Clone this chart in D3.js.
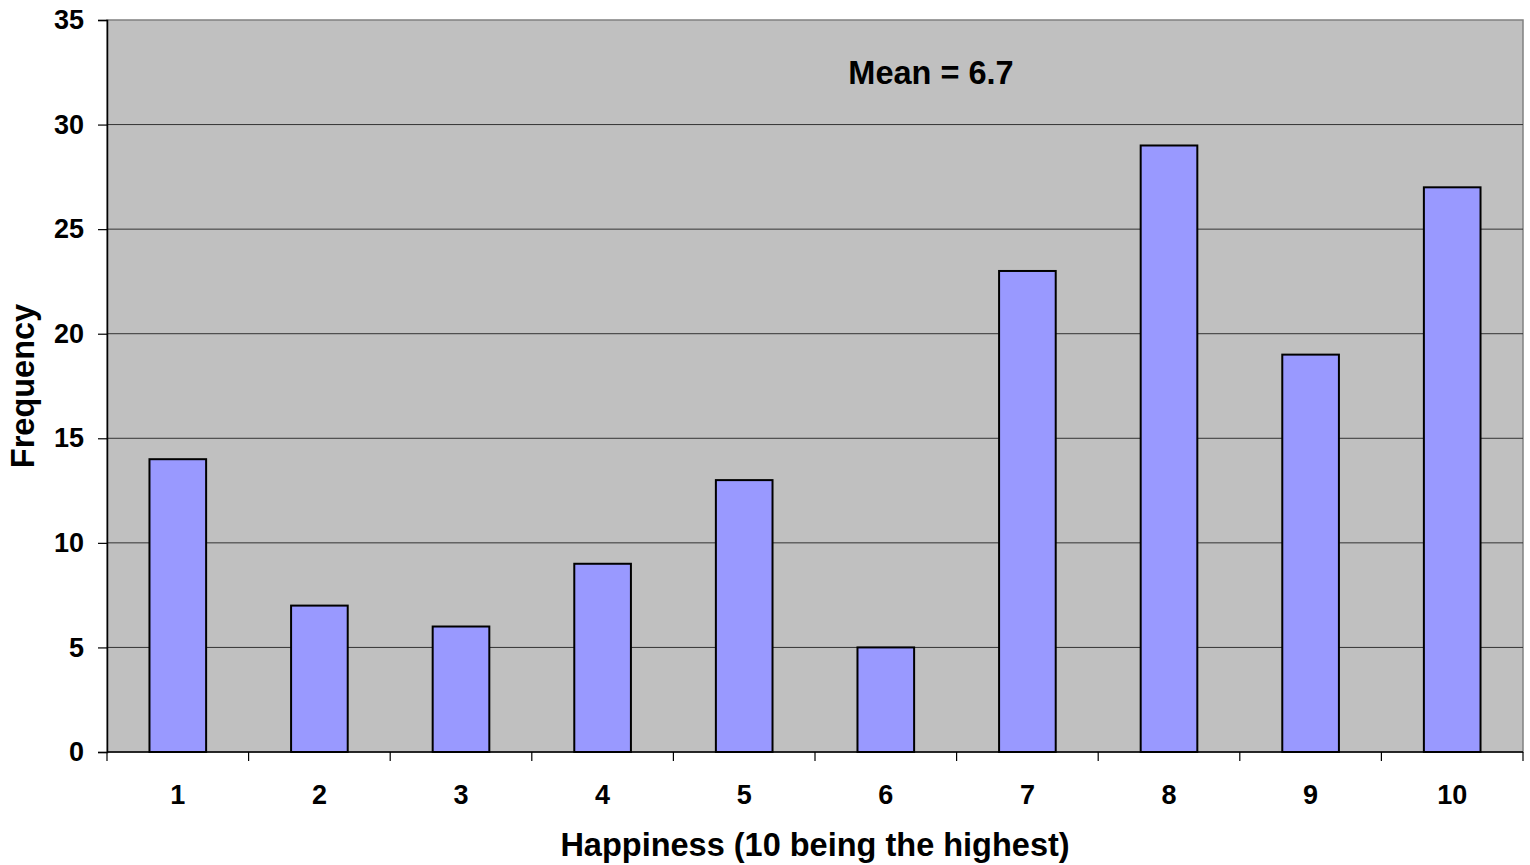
<!DOCTYPE html>
<html><head><meta charset="utf-8">
<script src="https://cdn.jsdelivr.net/npm/d3@7"></script>
<style>html,body{margin:0;padding:0;background:#fff;}svg{display:block;}</style>
</head><body>
<svg id="chart" width="1530" height="865"></svg>
<script>
const categories = ["1","2","3","4","5","6","7","8","9","10"];
const frequencies = [14, 7, 6, 9, 13, 5, 23, 29, 19, 27];
const yTicks = [0, 5, 10, 15, 20, 25, 30, 35];
const meanLabel = "Mean = 6.7";
const xTitle = "Happiness (10 being the highest)";
const yTitle = "Frequency";

const svg = d3.select("#chart");
const m = {left:107, right:1523, top:20, bottom:752};
const font = "'Liberation Sans', Arial, sans-serif";

const x = d3.scaleBand().domain(categories).range([m.left, m.right]).padding(0);
const y = d3.scaleLinear().domain([0, 35]).range([m.bottom, m.top]);

// plot background
svg.append("rect").attr("x", m.left).attr("y", m.top)
  .attr("width", m.right - m.left).attr("height", m.bottom - m.top)
  .attr("fill", "#c0c0c0").attr("stroke", "#808080").attr("stroke-width", 1.5);

// gridlines
svg.append("g").selectAll("line").data(yTicks.filter(t => t > 0 && t < 35)).join("line")
  .attr("x1", m.left).attr("x2", m.right)
  .attr("y1", d => y(d)).attr("y2", d => y(d))
  .attr("stroke", "#333").attr("stroke-width", 1);

// bars
const bw = x.bandwidth() * 0.4;
svg.append("g").selectAll("rect").data(categories).join("rect")
  .attr("x", (d) => x(d) + (x.bandwidth() - bw) / 2)
  .attr("y", (d, i) => y(frequencies[i]))
  .attr("width", bw)
  .attr("height", (d, i) => y(0) - y(frequencies[i]))
  .attr("fill", "#9999ff").attr("stroke", "#000").attr("stroke-width", 2);

// y axis
const yAxis = svg.append("g").attr("transform", `translate(${m.left},0)`)
  .call(d3.axisLeft(y).tickValues(yTicks).tickSize(9).tickPadding(14).tickFormat(d3.format("d")));
yAxis.select(".domain").attr("stroke", "#000").attr("stroke-width", 1.5);
yAxis.selectAll(".tick line").attr("stroke", "#000").attr("stroke-width", 1.2);
yAxis.selectAll("text").attr("font-family", font).attr("font-weight", "bold")
  .attr("font-size", 27).attr("fill", "#000");

// x axis with ticks at band boundaries
const xAxisG = svg.append("g").attr("transform", `translate(0,${m.bottom})`);
xAxisG.append("line").attr("x1", m.left).attr("x2", m.right).attr("y1", 0).attr("y2", 0)
  .attr("stroke", "#000").attr("stroke-width", 1.5);
const bounds = categories.map(c => x(c)).concat([m.right]);
xAxisG.selectAll("line.tk").data(bounds).join("line").attr("class", "tk")
  .attr("x1", d => d).attr("x2", d => d).attr("y1", 0).attr("y2", 9)
  .attr("stroke", "#000").attr("stroke-width", 1.2);
xAxisG.selectAll("text").data(categories).join("text")
  .attr("x", d => x(d) + x.bandwidth() / 2).attr("y", 52)
  .attr("text-anchor", "middle").attr("font-family", font).attr("font-weight", "bold")
  .attr("font-size", 27).attr("fill", "#000").text(d => d);

// mean label
svg.append("text").attr("x", 931).attr("y", 84).attr("text-anchor", "middle")
  .attr("font-family", font).attr("font-weight", "bold").attr("font-size", 32.5)
  .attr("fill", "#000").text(meanLabel);

// axis titles
svg.append("text").attr("x", (m.left + m.right) / 2).attr("y", 856).attr("text-anchor", "middle")
  .attr("font-family", font).attr("font-weight", "bold").attr("font-size", 32.5)
  .attr("fill", "#000").text(xTitle);
svg.append("text").attr("transform", `translate(34,${(m.top + m.bottom) / 2}) rotate(-90)`)
  .attr("text-anchor", "middle")
  .attr("font-family", font).attr("font-weight", "bold").attr("font-size", 32.5)
  .attr("fill", "#000").text(yTitle);
</script>
</body></html>
